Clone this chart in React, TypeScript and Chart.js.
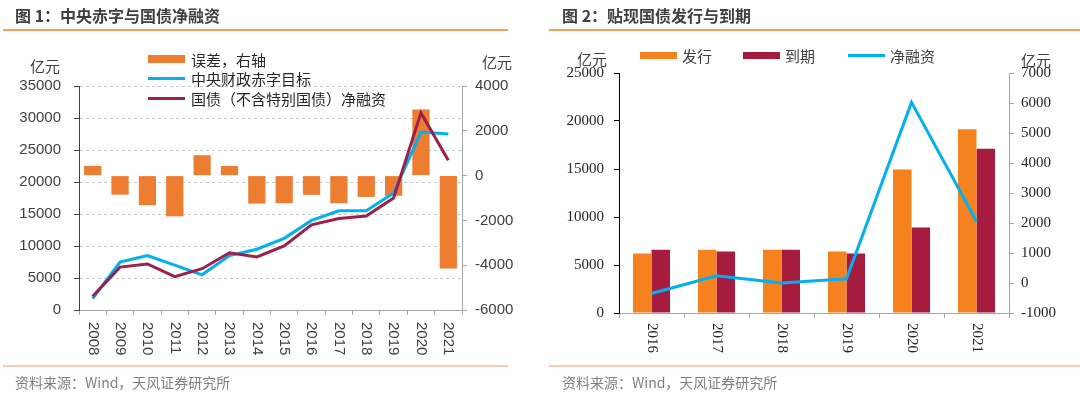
import React, { useEffect, useRef } from 'react';
import { Chart, registerables } from 'chart.js';

Chart.register(...registerables);

// ---------- Chart 1 data ----------
const years1 = ['2008', '2009', '2010', '2011', '2012', '2013', '2014', '2015', '2016', '2017', '2018', '2019', '2020', '2021'];
const errorVals = [430, -850, -1320, -1820, 910, 430, -1250, -1230, -860, -1230, -950, -900, 2950, -4150];
const deficitTarget = [1800, 7500, 8500, 7000, 5500, 8500, 9500, 11200, 14000, 15500, 15500, 18300, 27800, 27500];
const netFinancing = [2150, 6700, 7200, 5200, 6450, 8950, 8300, 10000, 13300, 14300, 14700, 17500, 30800, 23400];
const series1Names = ['误差，右轴', '中央财政赤字目标', '国债（不含特别国债）净融资'];

// ---------- Chart 2 data ----------
const years2 = ['2016', '2017', '2018', '2019', '2020', '2021'];
const issuance = [6200, 6600, 6600, 6400, 14950, 19150];
const maturity = [6600, 6400, 6600, 6200, 8900, 17100];
const netIssue = [-350, 240, 0, 140, 6020, 2060];
const series2Names = ['发行', '到期', '净融资'];

const C_ORANGE1 = '#ED7D31';
const C_CYAN = '#00B0F0';
const C_RED1 = '#9E1F48';
const C_ORANGE2 = '#F5821F';
const C_RED2 = '#A51C3F';

const CJK = '"Noto Sans CJK SC", "Noto Sans", sans-serif';
const plain = (v: any) => String(v);

function verticalLabels(font: string, color: string, offset: number) {
  return {
    id: 'vlabels',
    afterDraw(chart: any) {
      const { ctx } = chart;
      const xs = chart.scales.x;
      const labels = chart.data.labels as string[];
      ctx.save();
      ctx.font = font;
      ctx.fillStyle = color;
      ctx.textAlign = 'left';
      ctx.textBaseline = 'middle';
      labels.forEach((l, i) => {
        const x = xs.getPixelForValue(i);
        ctx.save();
        ctx.translate(x, xs.top + offset);
        ctx.rotate(Math.PI / 2);
        ctx.fillText(l, 0, 0);
        ctx.restore();
      });
      ctx.restore();
    },
  };
}

function Chart1() {
  const ref = useRef<HTMLCanvasElement>(null);
  useEffect(() => {
    const chart = new Chart(ref.current!, {
      type: 'bar',
      data: {
        labels: years1,
        datasets: [
          {
            type: 'line',
            label: series1Names[2],
            data: netFinancing,
            borderColor: C_RED1,
            backgroundColor: C_RED1,
            borderWidth: 3,
            pointRadius: 0,
            yAxisID: 'y',
            order: 1,
          } as any,
          {
            type: 'line',
            label: series1Names[1],
            data: deficitTarget,
            borderColor: C_CYAN,
            backgroundColor: C_CYAN,
            borderWidth: 3,
            pointRadius: 0,
            yAxisID: 'y',
            order: 2,
          } as any,
          {
            type: 'bar',
            label: series1Names[0],
            data: errorVals,
            backgroundColor: C_ORANGE1,
            yAxisID: 'y1',
            categoryPercentage: 0.63,
            barPercentage: 1,
            order: 3,
          },
        ],
      },
      options: {
        responsive: false,
        animation: false,
        layout: { padding: { top: 86, left: 0, right: 0, bottom: 0 } },
        plugins: { legend: { display: false }, tooltip: { enabled: false } },
        scales: {
          x: {
            offset: true,
            grid: { display: true, drawOnChartArea: false, drawTicks: true, tickLength: 5, color: '#A6A6A6', offset: true },
            border: { color: '#A6A6A6' },
            ticks: { display: false },
            afterFit: (s: any) => { s.height = 87; },
          },
          y: {
            position: 'left',
            min: 0,
            max: 35000,
            ticks: { stepSize: 5000, padding: 13, callback: plain, color: '#404040', font: { family: '"Liberation Sans", Arial, sans-serif', size: 15 } },
            grid: { color: '#C8C8C8', tickColor: '#404040', tickLength: 5, tickBorderDash: [] } as any,
            border: { color: '#404040', dash: [3, 3] },
            afterFit: (s: any) => { s.width = 79; },
          },
          y1: {
            position: 'right',
            min: -6000,
            max: 4000,
            ticks: { stepSize: 2000, padding: 8, callback: plain, color: '#404040', font: { family: '"Liberation Sans", Arial, sans-serif', size: 15 } },
            grid: { drawOnChartArea: false, tickColor: '#A6A6A6', tickLength: 5 },
            border: { color: '#A6A6A6' },
            afterFit: (s: any) => { s.width = 78; },
          },
        },
      },
      plugins: [verticalLabels('15px "Liberation Sans", Arial, sans-serif', '#404040', 12)],
    } as any);
    return () => chart.destroy();
  }, []);
  return <canvas ref={ref} width={540} height={397} style={{ position: 'absolute', left: 0, top: 0 }} />;
}

function Chart2() {
  const ref = useRef<HTMLCanvasElement>(null);
  useEffect(() => {
    const chart = new Chart(ref.current!, {
      type: 'bar',
      data: {
        labels: years2,
        datasets: [
          {
            type: 'line',
            label: series2Names[2],
            data: netIssue,
            borderColor: C_CYAN,
            backgroundColor: C_CYAN,
            borderWidth: 3,
            pointRadius: 0,
            yAxisID: 'y1',
            order: 1,
          } as any,
          {
            type: 'bar',
            label: series2Names[0],
            data: issuance,
            backgroundColor: C_ORANGE2,
            yAxisID: 'y',
            categoryPercentage: 0.57,
            barPercentage: 1,
            order: 2,
          },
          {
            type: 'bar',
            label: series2Names[1],
            data: maturity,
            backgroundColor: C_RED2,
            yAxisID: 'y',
            categoryPercentage: 0.57,
            barPercentage: 1,
            order: 2,
          },
        ],
      },
      options: {
        responsive: false,
        animation: false,
        layout: { padding: { top: 73, left: 0, right: 0, bottom: 0 } },
        plugins: { legend: { display: false }, tooltip: { enabled: false } },
        scales: {
          x: {
            offset: true,
            grid: { display: true, drawOnChartArea: false, drawTicks: true, tickLength: 5, color: '#A6A6A6', offset: true },
            border: { color: '#A6A6A6' },
            ticks: { display: false },
            afterFit: (s: any) => { s.height = 84; },
          },
          y: {
            position: 'left',
            min: 0,
            max: 25000,
            ticks: { stepSize: 5000, padding: 10, callback: plain, color: '#262626', font: { family: '"Liberation Serif", "Times New Roman", serif', size: 15 } },
            grid: { drawOnChartArea: false, tickColor: '#000000', tickLength: 5 },
            border: { color: '#000000' },
            afterFit: (s: any) => { s.width = 79; },
          },
          y1: {
            position: 'right',
            min: -1000,
            max: 7000,
            ticks: { stepSize: 1000, padding: 7, callback: plain, color: '#262626', font: { family: '"Liberation Serif", "Times New Roman", serif', size: 15 } },
            grid: { drawOnChartArea: false, tickColor: '#A6A6A6', tickLength: 5 },
            border: { color: '#A6A6A6' },
            afterFit: (s: any) => { s.width = 71; },
          },
        },
      },
      plugins: [verticalLabels('15px "Liberation Serif", "Times New Roman", serif', '#262626', 10)],
    } as any);
    return () => chart.destroy();
  }, []);
  return <canvas ref={ref} width={540} height={397} style={{ position: 'absolute', left: 540, top: 0 }} />;
}

const abs = (o: React.CSSProperties): React.CSSProperties => ({ position: 'absolute', whiteSpace: 'nowrap', ...o });

function Text({ x, y, size, color, bold, children }: any) {
  return (
    <div style={abs({ left: x, top: y - size * 0.7, fontSize: size, lineHeight: `${size * 1.4}px`, color, fontWeight: bold ? 700 : 400, fontFamily: CJK })}>
      {children}
    </div>
  );
}

export default function App() {
  return (
    <div style={{ position: 'fixed', left: 0, top: 0, width: 1080, height: 397, background: '#fff', overflow: 'hidden' }}>
      <Chart1 />
      <Chart2 />
      {/* titles */}
      <Text x={15} y={15} size={16} color="#404040" bold>图 1：中央赤字与国债净融资</Text>
      <Text x={562} y={15} size={16} color="#404040" bold>图 2：贴现国债发行与到期</Text>
      <div style={abs({ left: 3, top: 29, width: 505, height: 2, background: '#F5A356' })} />
      <div style={abs({ left: 549, top: 29, width: 531, height: 2, background: '#F5A356' })} />
      {/* footers */}
      <div style={abs({ left: 3, top: 365, width: 505, height: 2, background: '#F8CBAD' })} />
      <div style={abs({ left: 549, top: 365, width: 531, height: 2, background: '#F8CBAD' })} />
      <Text x={15} y={383} size={14} color="#7F7F7F">资料来源：Wind，天风证券研究所</Text>
      <Text x={562} y={383} size={14} color="#7F7F7F">资料来源：Wind，天风证券研究所</Text>
      {/* axis units chart 1 */}
      <Text x={30} y={65} size={15} color="#404040">亿元</Text>
      <Text x={482} y={61} size={15} color="#404040">亿元</Text>
      {/* legend chart 1 */}
      <div style={abs({ left: 148, top: 55, width: 37, height: 8, background: C_ORANGE1 })} />
      <Text x={191} y={59} size={15} color="#262626">{series1Names[0]}</Text>
      <div style={abs({ left: 148, top: 77, width: 37, height: 3, background: C_CYAN })} />
      <Text x={191} y={78} size={15} color="#262626">{series1Names[1]}</Text>
      <div style={abs({ left: 148, top: 97, width: 37, height: 3, background: C_RED1 })} />
      <Text x={191} y={98} size={15} color="#262626">{series1Names[2]}</Text>
      {/* axis units chart 2 */}
      <Text x={577} y={58} size={15} color="#404040">亿元</Text>
      <Text x={1021} y={59} size={15} color="#404040">亿元</Text>
      {/* legend chart 2 */}
      <div style={abs({ left: 640, top: 52, width: 37, height: 7, background: C_ORANGE2 })} />
      <Text x={682} y={55} size={15} color="#404040">{series2Names[0]}</Text>
      <div style={abs({ left: 743, top: 52, width: 37, height: 7, background: C_RED2 })} />
      <Text x={785} y={55} size={15} color="#404040">{series2Names[1]}</Text>
      <div style={abs({ left: 848, top: 54, width: 37, height: 3, background: C_CYAN })} />
      <Text x={890} y={55} size={15} color="#404040">{series2Names[2]}</Text>
    </div>
  );
}
